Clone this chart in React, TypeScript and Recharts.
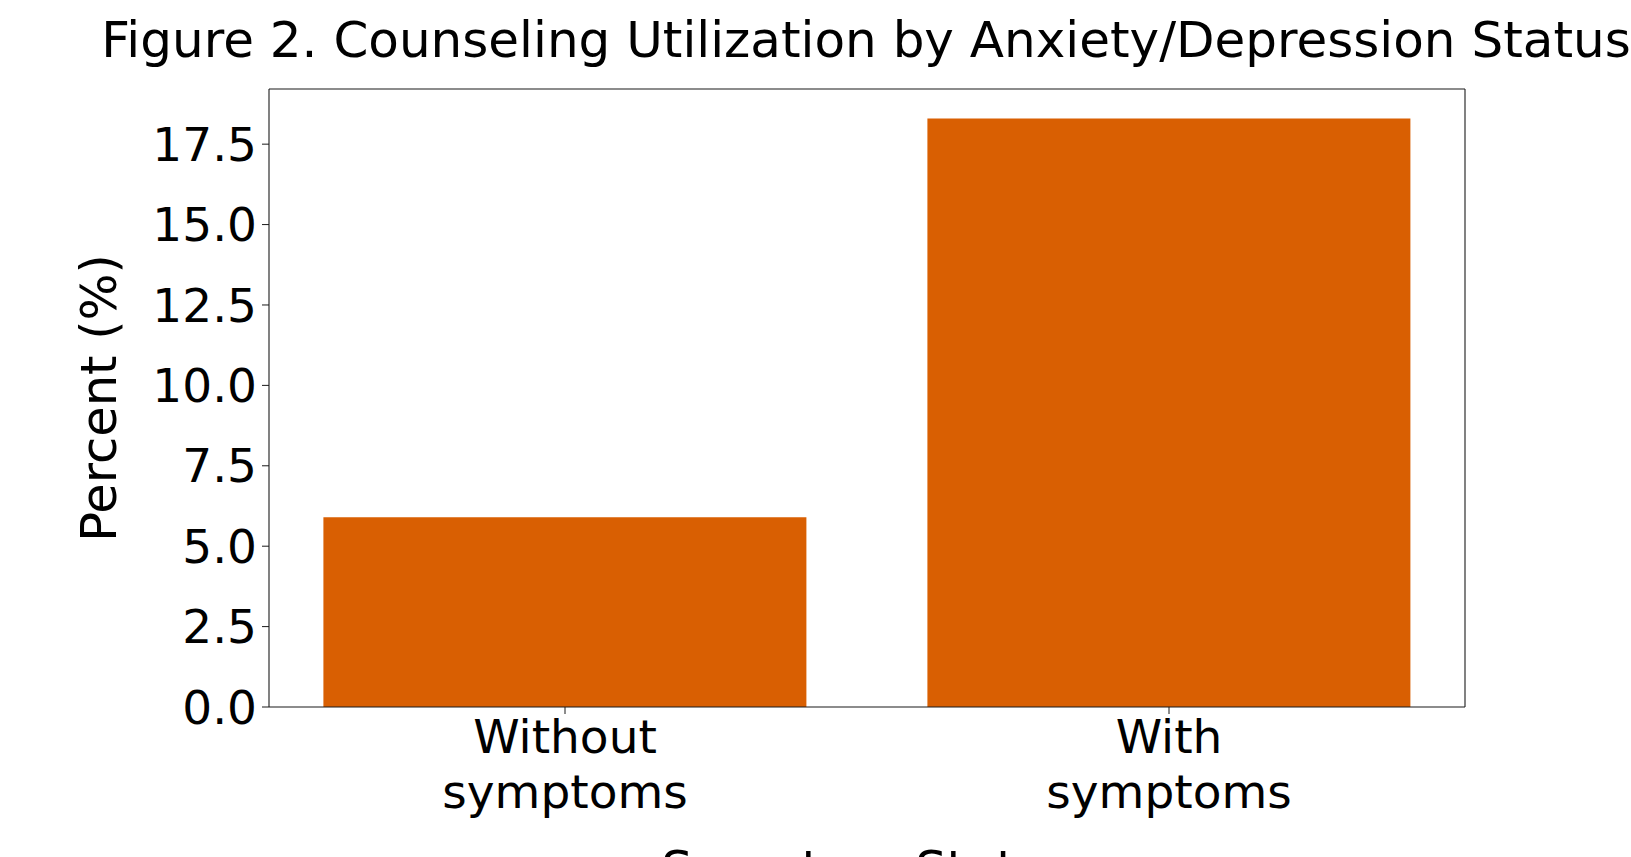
import { BarChart, Bar, XAxis, YAxis, CartesianGrid } from "recharts";

const categories = ["Without symptoms", "With symptoms"];
const percents = [5.9, 18.3];
const yTicks = [0, 2.5, 5, 7.5, 10, 12.5, 15, 17.5];

const title = "Figure 2. Counseling Utilization by Anxiety/Depression Status";
const yLabel = "Percent (%)";
const xLabel = "Symptom Status";

const data = categories.map((status, i) => ({ status, percent: percents[i] }));
// matplotlib-style 5% headroom above the tallest bar
const yMax = Math.max(...percents) * 1.05;

const FONT = "'DejaVu Sans', sans-serif";
const BAR_COLOR = "#d95f02";
const SPINE = "#1a1a1a";

type GridArgs = { offset: { top: number; left: number; width: number; height: number } };

const CategoryTick = ({ x, y, payload }: { x?: number; y?: number; payload?: { value: string } }) => {
  const words = (payload?.value ?? "").split(" ");
  return (
    <text x={x} y={y} textAnchor="middle" fontSize={47} fontFamily={FONT} fill="#000">
      {words.map((w, i) => (
        <tspan key={w + i} x={x} dy={i === 0 ? "0.71em" : 55}>
          {w}
        </tspan>
      ))}
    </text>
  );
};

export default function App() {
  return (
    <div style={{ position: "absolute", left: 0, top: 0, width: 1631, height: 857, background: "#fff", overflow: "hidden" }}>
      <BarChart
        width={1631}
        height={857}
        data={data}
        margin={{ top: 89, right: 166, left: 0, bottom: 0 }}
        barCategoryGap="10%"
      >
        {/* top + right spines, taken from the plot offset */}
        <CartesianGrid
          stroke={SPINE}
          strokeWidth={1.1}
          horizontalCoordinatesGenerator={({ offset }: GridArgs) => [offset.top]}
          verticalCoordinatesGenerator={({ offset }: GridArgs) => [offset.left + offset.width]}
        />
        <XAxis
          dataKey="status"
          height={150}
          padding={{ left: -6, right: -6 }}
          tick={<CategoryTick />}
          tickSize={7}
          tickMargin={6}
          tickLine={{ stroke: SPINE }}
          axisLine={{ stroke: SPINE, strokeWidth: 1.1 }}
          interval={0}
        />
        <YAxis
          width={269}
          domain={[0, yMax]}
          ticks={yTicks}
          allowDataOverflow
          tickFormatter={(v: number) => v.toFixed(1)}
          tick={{ fill: "#000", fontSize: 47, fontFamily: FONT }}
          tickSize={7}
          tickMargin={5}
          tickLine={{ stroke: SPINE }}
          axisLine={{ stroke: SPINE, strokeWidth: 1.1 }}
        />
        <Bar dataKey="percent" fill={BAR_COLOR} isAnimationActive={false} />
      </BarChart>
      <svg
        width={1631}
        height={857}
        style={{ position: "absolute", left: 0, top: 0, pointerEvents: "none" }}
      >
        <text x={866} y={57} textAnchor="middle" fontSize={50} fontFamily={FONT} fill="#000">
          {title}
        </text>
        <text
          transform="translate(116, 398) rotate(-90)"
          textAnchor="middle"
          fontSize={49.5}
          fontFamily={FONT}
          fill="#000"
        >
          {yLabel}
        </text>
        <text x={867} y={886} textAnchor="middle" fontSize={49.5} fontFamily={FONT} fill="#000">
          {xLabel}
        </text>
      </svg>
    </div>
  );
}
